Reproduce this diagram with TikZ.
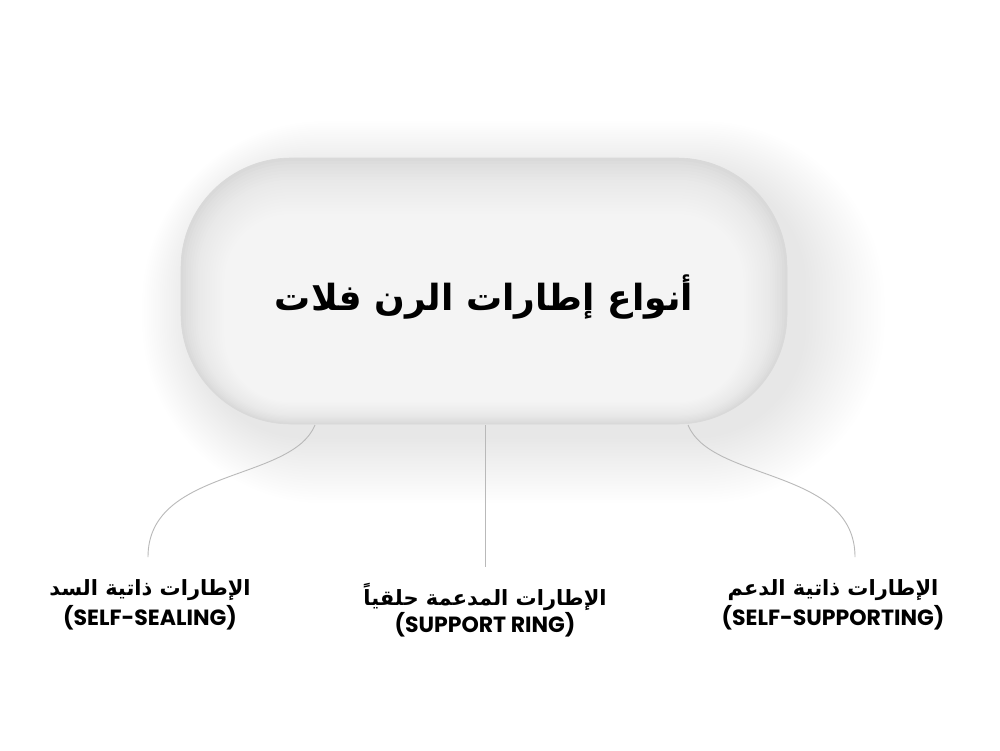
\documentclass[tikz,border=0pt]{standalone}
\usepackage{fontspec}
\TeXXeTstate=1
\newfontfamily\arabicfont[Script=Arabic]{DejaVu Sans}
\newfontfamily\latinfont{Poppins}
\tikzset{
  conn/.style={draw=gray!55, line width=0.9pt},
  artitle/.style={font=\arabicfont\bfseries\fontsize{36}{40}\selectfont, text=black},
  arlabel/.style={font=\arabicfont\bfseries\fontsize{21}{24}\selectfont, text=black},
  enlabel/.style={font=\latinfont\bfseries\fontsize{22}{24}\selectfont, text=black},
}
\begin{document}
\begin{tikzpicture}[x=1pt,y=-1pt]
\fill[white] (0,0) rectangle (1000,750);
\useasboundingbox (0,0) rectangle (1000,750);
% soft shadow
\foreach \i in {1,...,24}{
  \fill[black, opacity=0.0045, rounded corners={110pt+\i*3pt}]
    (181+14-\i*2.2, 158+16-\i*2.2) rectangle (787+16+\i*3.4, 424+12+\i*2.8);
}
% pill base
\fill[gray!30, rounded corners=110pt] (181,158) rectangle (787,424);
% inner lighting
\foreach \i in {1,...,44}{
  \pgfmathsetmacro{\rr}{max(110-\i*2.4,20)}
  \fill[white, opacity=0.09, rounded corners=\rr pt]
    (181+\i*2.4, 158+\i*3.1) rectangle (787-\i*2.4, 424-\i*1.2);
}
\draw[gray!30, line width=0.6pt, rounded corners=110pt] (181,158) rectangle (787,424);
\node[artitle] (title) at (484,297) {\beginR أنواع إطارات الرن فلات\endR};
\coordinate (pl) at (315,425);
\coordinate (pm) at (485,425);
\coordinate (pr) at (688,425);
% labels
\node[arlabel] (l1) at (150,590) {\beginR الإطارات ذاتية السد\endR};
\node[enlabel] (e1) at (150,618) {(SELF-SEALING)};
\node[arlabel] (l2) at (485,597) {\beginR الإطارات المدعمة حلقياً\endR};
\node[enlabel] (e2) at (485,625) {(SUPPORT RING)};
\node[arlabel] (l3) at (833,590) {\beginR الإطارات ذاتية الدعم\endR};
\node[enlabel] (e3) at (833,618) {(SELF-SUPPORTING)};
\coordinate (el) at (148,557);
\coordinate (em) at (485,567);
\coordinate (er) at (855,557);
\draw[conn] (pl) .. controls (292,482) and (148,468) .. (el);
\draw[conn] (pm) -- (em);
\draw[conn] (pr) .. controls (711,482) and (855,468) .. (er);
\end{tikzpicture}
\end{document}
